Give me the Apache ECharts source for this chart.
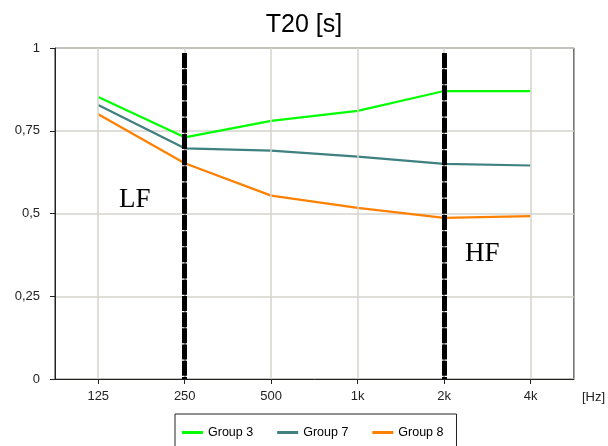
<!DOCTYPE html>
<html>
<head>
<meta charset="utf-8">
<script src="https://cdn.jsdelivr.net/npm/echarts@6/dist/echarts.min.js"></script>
<style>
  html, body { margin: 0; padding: 0; background: #fff; }
  #chart { width: 608px; height: 446px; }
</style>
</head>
<body>
<div id="chart"></div>
<script>
// Octave-band centre frequencies
const categories = ['125', '250', '500', '1k', '2k', '4k'];

// T20 reverberation time per band, seconds
const group3 = [0.852, 0.730, 0.780, 0.810, 0.870, 0.870];
const group7 = [0.828, 0.697, 0.690, 0.672, 0.650, 0.645];
const group8 = [0.800, 0.652, 0.554, 0.517, 0.487, 0.492];

// Band limits separating the LF and HF ranges
const bandLimits = ['250', '2k'];

const sans = 'Liberation Sans, Arial, sans-serif';
const serif = 'Liberation Serif, Times New Roman, serif';
const gridColor = '#d6d3cc';

const chart = echarts.init(document.getElementById('chart'), null, { renderer: 'canvas' });

chart.setOption({
  backgroundColor: '#fff',
  animation: false,
  title: {
    text: 'T20 [s]',
    left: 'center',
    top: 8,
    textStyle: { fontFamily: sans, fontSize: 25, fontWeight: 'normal', color: '#000' }
  },
  legend: {
    data: ['Group 3', 'Group 7', 'Group 8'],
    left: 175,
    top: 414,
    orient: 'horizontal',
    icon: 'rect',
    itemWidth: 21,
    itemHeight: 3,
    itemGap: 24,
    padding: [12, 13, 30, 7],
    borderColor: '#222',
    borderWidth: 1,
    textStyle: { fontFamily: sans, fontSize: 12.5, color: '#000' }
  },
  grid: {
    left: 55, right: 34, top: 48, bottom: 67,
    show: true,
    borderColor: '#222',
    borderWidth: 1,
    backgroundColor: 'transparent'
  },
  xAxis: {
    type: 'category',
    data: categories,
    boundaryGap: true,
    name: '[Hz]',
    nameLocation: 'end',
    nameGap: 8,
    nameTextStyle: {
      fontFamily: sans, fontSize: 13, color: '#222',
      verticalAlign: 'top', padding: [12, 0, 0, 0]
    },
    axisLine: { lineStyle: { color: '#222', width: 1 } },
    axisTick: { show: true, alignWithLabel: true, length: 5, lineStyle: { color: '#222' } },
    axisLabel: { fontFamily: sans, fontSize: 13, color: '#222', margin: 11 },
    splitLine: { show: false }
  },
  yAxis: {
    type: 'value',
    min: 0,
    max: 1,
    interval: 0.25,
    axisLine: { show: true, lineStyle: { color: '#222', width: 1 } },
    axisTick: { show: true, length: 5, lineStyle: { color: '#222' } },
    axisLabel: {
      fontFamily: sans, fontSize: 13, color: '#222', margin: 15,
      formatter: v => String(v).replace('.', ',')
    },
    splitLine: { show: true, lineStyle: { color: gridColor, width: 1.5 } }
  },
  graphic: [
    {
      type: 'text', left: 119, top: 186, z: 10,
      style: { text: 'LF', font: '27px ' + serif, fill: '#000' }
    },
    {
      type: 'text', left: 465, top: 240, z: 10,
      style: { text: 'HF', font: '27px ' + serif, fill: '#000' }
    }
  ],
  series: [
    {
      // vertical grid lines at each band centre
      name: 'grid',
      type: 'line',
      data: [],
      z: 1,
      silent: true,
      markLine: {
        silent: true,
        symbol: ['none', 'none'],
        label: { show: false },
        lineStyle: { color: gridColor, width: 1.5, type: 'solid' },
        data: categories.map(c => ({ xAxis: c }))
      }
    },
    {
      name: 'Group 3',
      type: 'line',
      data: group3,
      symbol: 'none',
      z: 3,
      color: '#00ff00',
      lineStyle: { width: 2.2, color: '#00ff00' }
    },
    {
      name: 'Group 7',
      type: 'line',
      data: group7,
      symbol: 'none',
      z: 3,
      color: '#3f8080',
      lineStyle: { width: 2.2, color: '#3f8080' }
    },
    {
      name: 'Group 8',
      type: 'line',
      data: group8,
      symbol: 'none',
      z: 3,
      color: '#ff8000',
      lineStyle: { width: 2.2, color: '#ff8000' }
    },
    {
      // grey core under the LF / HF limits, seen through the dash gaps
      name: 'limitsCore',
      type: 'line',
      data: [],
      z: 4,
      silent: true,
      markLine: {
        silent: true,
        symbol: ['none', 'none'],
        label: { show: false },
        lineStyle: { color: '#9a9a9a', width: 2, type: 'solid' },
        data: bandLimits.map(c => [
          { xAxis: c, yAxis: 0.985 },
          { xAxis: c, yAxis: 0 }
        ])
      }
    },
    {
      // LF / HF band limits
      name: 'limits',
      type: 'line',
      data: [],
      z: 5,
      silent: true,
      markLine: {
        silent: true,
        symbol: ['none', 'none'],
        label: { show: false },
        lineStyle: { color: '#000', width: 5, type: [15, 1.2] },
        data: bandLimits.map(c => [
          { xAxis: c, yAxis: 0.985 },
          { xAxis: c, yAxis: 0 }
        ])
      }
    }
  ]
});
</script>
</body>
</html>
